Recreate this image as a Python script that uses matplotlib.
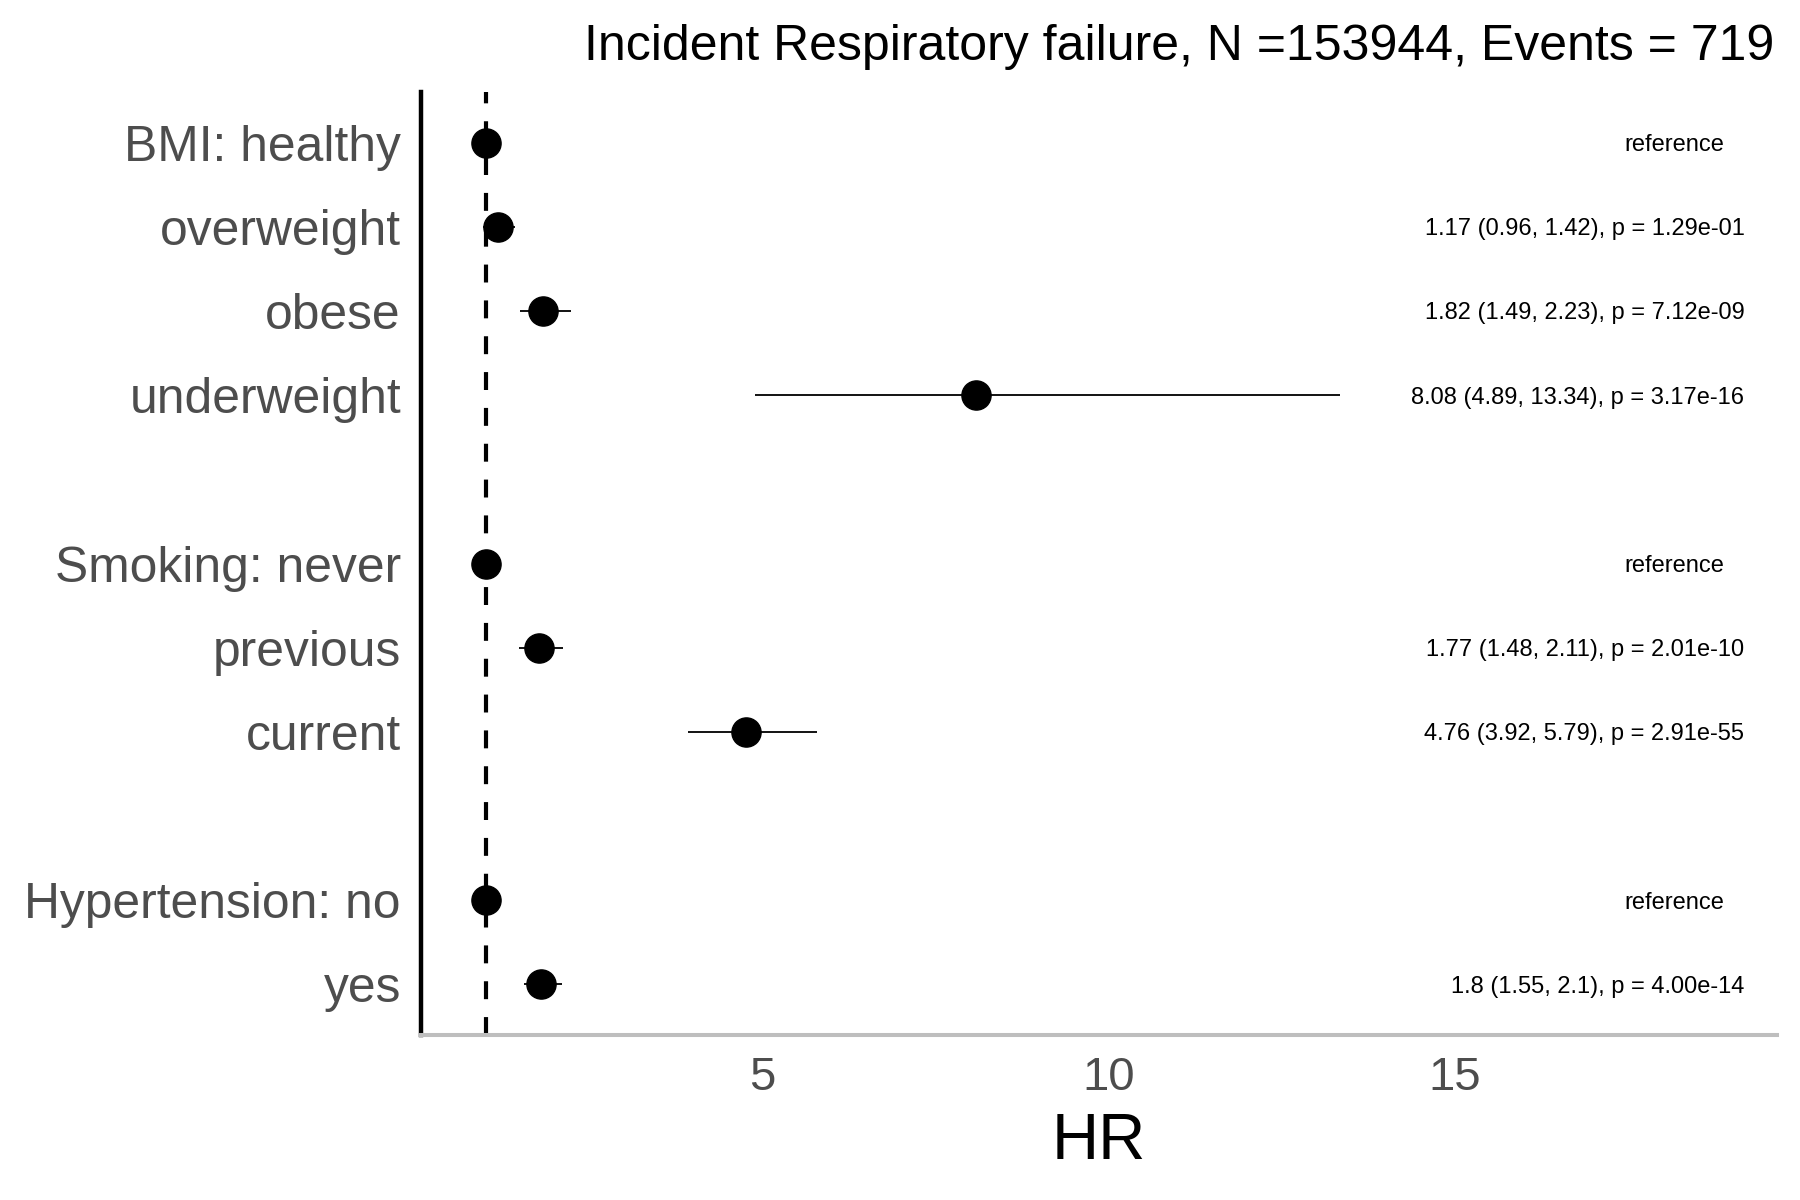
import numpy as np
import matplotlib.pyplot as plt

plt.rcParams['font.family'] = ['Liberation Sans', 'DejaVu Sans']

# forest plot data, top to bottom
labels = ['BMI: healthy', 'overweight', 'obese', 'underweight',
          'Smoking: never', 'previous', 'current',
          'Hypertension: no', 'yes']
group_sizes = [4, 3, 2]
hr = [1, 1.17, 1.82, 8.08, 1, 1.77, 4.76, 1, 1.8]
ci_lo = [np.nan, 0.96, 1.49, 4.89, np.nan, 1.48, 3.92, np.nan, 1.55]
ci_hi = [np.nan, 1.42, 2.23, 13.34, np.nan, 2.11, 5.79, np.nan, 2.1]
pvals = [None, '1.29e-01', '7.12e-09', '3.17e-16', None, '2.01e-10', '2.91e-55', None, '4.00e-14']
title = 'Incident Respiratory failure, N =153944, Events = 719'

# y positions with a blank row between groups
ypos = []
row = 0
for g in group_sizes:
    for i in range(g):
        ypos.append(row)
        row += 1
    row += 1
n_rows = ypos[-1]
ypos = [n_rows - r for r in ypos]

fig = plt.figure(figsize=(18, 12), dpi=100)
ax = fig.add_axes([0.2339, 0.1375, 0.7533, 0.7858])

ax.axvline(1, color='black', lw=3, linestyle=(0, (4.3, 4.3)), zorder=1)
ax.hlines(ypos, ci_lo, ci_hi, color='black', lw=1.3, zorder=2)
ax.plot(hr, ypos, 'o', color='black', markersize=21, zorder=3)

for y, h, lo, hi, p in zip(ypos, hr, ci_lo, ci_hi, pvals):
    if p is None:
        ax.text(18.18, y, 'reference', ha='center', va='center_baseline', fontsize=17)
    else:
        ax.text(19.19, y, f'{h} ({lo}, {hi}), p = {p}', ha='right', va='center_baseline', fontsize=17)

ax.set_xlim(0.061, 19.66)
ax.set_ylim(-0.6, n_rows + 0.6)
ax.set_yticks(ypos, labels, fontsize=35.8, color='#4D4D4D')
ax.set_xticks([5, 10, 15], ['5', '10', '15'], fontsize=34, color='#4D4D4D')
ax.tick_params(axis='y', length=0, pad=14.5)
ax.tick_params(axis='x', length=0, pad=15)
ax.set_xlabel('HR', fontsize=47, labelpad=9)

for s in ['top', 'right']:
    ax.spines[s].set_visible(False)
ax.spines['left'].set_linewidth(3.2)
ax.spines['left'].set_color('black')
ax.spines['bottom'].set_linewidth(2.9)
ax.spines['bottom'].set_color('#BEBEBE')

fig.text(0.9857, 0.95, title, ha='right', va='baseline', fontsize=36)

fig.savefig('out.png', dpi=100)
